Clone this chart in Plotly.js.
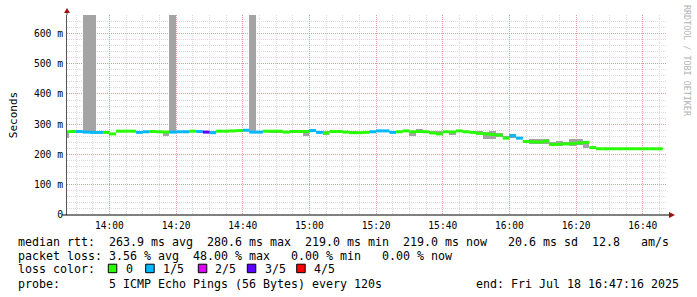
<!DOCTYPE html>
<html>
<head>
<meta charset="utf-8">
<script src="https://cdn.plot.ly/plotly-3.0.1.min.js"></script>
<style>
html,body{margin:0;padding:0;background:#fff;}
#chart{width:697px;height:297px;}
</style>
</head>
<body>
<div id="chart"></div>
<script>
// ---- data ----
const intervalStart = ["13:46","13:48","13:50","13:52","13:54","13:56","13:58","14:00","14:02","14:04",
  "14:06","14:08","14:10","14:12","14:14","14:16","14:18","14:20","14:22","14:24",
  "14:26","14:28","14:30","14:32","14:34","14:36","14:38","14:40","14:42","14:44",
  "14:46","14:48","14:50","14:52","14:54","14:56","14:58","15:00","15:02","15:04",
  "15:06","15:08","15:10","15:12","15:14","15:16","15:18","15:20","15:22","15:24",
  "15:26","15:28","15:30","15:32","15:34","15:36","15:38","15:40","15:42","15:44",
  "15:46","15:48","15:50","15:52","15:54","15:56","15:58","16:00","16:02","16:04",
  "16:06","16:08","16:10","16:12","16:14","16:16","16:18","16:20","16:22","16:24",
  "16:26","16:28","16:30","16:32","16:34","16:36","16:38","16:40","16:42","16:44"];
// median rtt in ms
const medianRtt = [275,276,276,274,273,273,273,268,277,277,
  277,273,275,276,275,274,274,275,275,277,
  276,274,272,277,277,278,279,280,274,274,
  277,277,277,274,276,276,276,279,273,271,
  276,276,274,272,272,273,275,278,278,273,
  275,278,275,276,275,271,268,275,274,278,
  275,273,270,268,266,264,254,262,254,243,
  242,241,244,233,234,235,236,238,240,223,
  219,219,219,219,219,219,219,219,219,219];
// lost pings out of 5
const lostPings = [0,0,1,1,1,1,0,0,0,0,
  0,1,1,0,0,0,1,1,1,0,
  1,3,1,0,0,0,0,1,1,1,
  0,0,0,0,0,0,0,1,1,0,
  0,0,0,0,0,0,1,1,1,1,
  0,0,0,0,0,0,0,0,0,0,
  0,0,0,0,0,0,0,1,1,0,
  0,0,0,0,0,0,0,0,0,0,
  0,0,0,0,0,0,0,0,0,0];
// smoke: lowest and highest ping in ms
const smokeLow = [254,270,272,272,270,271,271,266,275,275,
  274,271,272,274,271,262,272,273,273,275,
  274,272,270,275,275,276,277,277,272,272,
  275,270,272,270,272,273,260,276,271,265,
  273,274,272,269,270,271,273,276,276,271,
  273,276,260,273,272,267,266,273,265,276,
  273,271,266,250,250,258,252,254,250,238,
  235,235,234,229,228,230,229,230,222,220,
  null,null,null,null,null,null,null,null,null,null];
const smokeHigh = [278,278,278,700,700,276,276,272,279,279,
  279,276,277,278,278,277,700,278,277,279,
  278,277,276,279,279,280,281,282,700,277,
  279,278,278,277,278,278,278,281,276,276,
  278,278,277,277,275,276,277,280,280,276,
  277,280,278,283,279,279,278,277,276,280,
  277,276,276,273,278,272,262,268,258,246,
  250,250,250,242,245,242,250,251,246,226,
  null,null,null,null,null,null,null,null,null,null];

const lossLabels = ["0","1/5","2/5","3/5","4/5"];
const lossColors = ["#26ff00","#00b8ff","#dd00ff","#5e00ff","#ff0000"];

const yTickVals = [0,100,200,300,400,500,600];
const yTickText = ["0","100 m","200 m","300 m","400 m","500 m","600 m"];
const xTickLabels = ["14:00","14:20","14:40","15:00","15:20","15:40","16:00","16:20","16:40"];

const statLines = [
  "median rtt:  263.9 ms avg  280.6 ms max  219.0 ms min  219.0 ms now   20.6 ms sd  12.8   am/s",
  "packet loss: 3.56 % avg  48.00 % max   0.00 % min   0.00 % now",
  "loss color:",
  "probe:       5 ICMP Echo Pings (56 Bytes) every 120s"
];
const endText = "end: Fri Jul 18 16:47:16 2025";
const rangeStart = "13:47:16", rangeEnd = "16:47:16";
const stepMinutes = 2;

// ---- helpers ----
function toMs(hm){
  const p = hm.split(":").map(Number);
  return Date.UTC(2025,6,18,p[0],p[1],p[2]||0);
}
const STEP = stepMinutes*60000;

// smoke bars
const smokeX=[], smokeBase=[], smokeH=[];
intervalStart.forEach((t,i)=>{
  if(smokeLow[i]===null) return;
  smokeX.push(toMs(t)+STEP/2);
  smokeBase.push(smokeLow[i]);
  smokeH.push(smokeHigh[i]-smokeLow[i]);
});
const traces = [{
  type:"bar", x:smokeX, y:smokeH, base:smokeBase, width:STEP,
  marker:{color:"#a4a4a4", line:{width:0}}, hoverinfo:"skip", showlegend:false
}];

// median segments by loss colour
lossColors.forEach((c,k)=>{
  const xs=[], ys=[];
  intervalStart.forEach((t,i)=>{
    if(lostPings[i]!==k) return;
    const s=toMs(t);
    xs.push(s, s+STEP, null); ys.push(medianRtt[i], medianRtt[i], null);
  });
  if(xs.length) traces.push({type:"scatter", mode:"lines", x:xs, y:ys,
    line:{color:c, width:3}, hoverinfo:"skip", showlegend:false, name:lossLabels[k]});
});

// ---- layout ----
const L=67, T=15, W=600, H=200;
const px = x => (x-L)/W;
const py = y => (T+H-y)/H;
const mono = "DejaVu Sans Mono, monospace";
const annFont = {family:mono, size:11.63, color:"#000"};
const lineY = [241.8, 256, 269.2, 283.6];

const annotations = [];
statLines.forEach((s,i)=>{
  annotations.push({xref:"paper", yref:"paper", x:px(16), y:py(lineY[i]), xanchor:"left", yanchor:"middle",
    text:s.replace(/ /g,"&nbsp;"), showarrow:false, font:annFont});
});
annotations.push({xref:"paper", yref:"paper", x:px(681), y:py(lineY[3]), xanchor:"right", yanchor:"middle",
  text:endText.replace(/ /g,"&nbsp;"), showarrow:false, font:annFont});
const boxX = [108.3,145.7,198.3,247.3,296.7];
const labX = [124.3,161,213.3,263.3,312.3];
const shapes = [];
lossLabels.forEach((lab,k)=>{
  annotations.push({xref:"paper", yref:"paper", x:px(labX[k]), y:py(lineY[2]), xanchor:"left", yanchor:"middle",
    text:lab, showarrow:false, font:annFont});
  shapes.push({type:"rect", xref:"paper", yref:"paper", xsizemode:"pixel", ysizemode:"pixel",
    xanchor:0, yanchor:0, x0:boxX[k]-L, x1:boxX[k]-L+8.5, y0:-(272.7-215), y1:-(264.2-215),
    fillcolor:lossColors[k], line:{color:"#000", width:1}});
});
// watermark
annotations.push({xref:"paper", yref:"paper", x:px(687), y:py(61), xanchor:"center", yanchor:"middle",
  text:"RRDTOOL / TOBI OETIKER", textangle:90, showarrow:false,
  font:{family:mono, size:8.4, color:"#b4b4b4"}});

// axis arrows
shapes.push({type:"line", xref:"paper", yref:"paper", x0:0, x1:0, y0:1, y1:py(10), line:{color:"#555", width:1}});
shapes.push({type:"path", xref:"paper", yref:"paper", xsizemode:"pixel", ysizemode:"pixel", xanchor:0, yanchor:1,
  path:"M -3,2 L 3,2 L 0,7 Z", fillcolor:"#a01010", line:{width:0}});
shapes.push({type:"line", xref:"paper", yref:"paper", x0:px(62), x1:px(670), y0:0, y1:0, line:{color:"#000", width:1}});
shapes.push({type:"path", xref:"paper", yref:"paper", xsizemode:"pixel", ysizemode:"pixel", xanchor:1, yanchor:0,
  path:"M 2,-3 L 2,3 L 8,0 Z", fillcolor:"#a01010", line:{width:0}});

const layout = {
  width:697, height:297,
  margin:{l:L, r:697-L-W, t:T, b:297-T-H, pad:0},
  paper_bgcolor:"#fff", plot_bgcolor:"#fff",
  showlegend:false, bargap:0,
  font:{family:mono, color:"#000"},
  xaxis:{type:"date", range:[toMs(rangeStart), toMs(rangeEnd)],
    tickvals:xTickLabels.map(toMs), ticktext:xTickLabels,
    tickfont:{family:mono, size:9.6, color:"#000"}, ticks:"", ticklabelstandoff:3,
    showgrid:true, gridcolor:"rgba(230,130,130,0.7)", griddash:"1px,1px", gridwidth:1,
    minor:{dtick:300000, tick0:toMs("14:00"), showgrid:true, gridcolor:"#d9d9d9", griddash:"1px,1px", gridwidth:1},
    showline:false, zeroline:false, fixedrange:true},
  yaxis:{range:[0,661], tickvals:yTickVals, ticktext:yTickText,
    tickfont:{family:mono, size:9.7, color:"#000"}, ticks:"", ticklabelstandoff:1,
    showgrid:true, gridcolor:"rgba(230,130,130,0.7)", griddash:"1px,1px", gridwidth:1,
    minor:{dtick:20, showgrid:true, gridcolor:"#d9d9d9", griddash:"1px,1px", gridwidth:1},
    showline:true, linecolor:"#555", linewidth:1, zeroline:false, fixedrange:true,
    title:{text:"Seconds", font:{family:mono, size:11, color:"#000"}, standoff:14}},
  annotations:annotations, shapes:shapes
};
Plotly.newPlot("chart", traces, layout, {staticPlot:true, displayModeBar:false});
</script>
</body>
</html>
